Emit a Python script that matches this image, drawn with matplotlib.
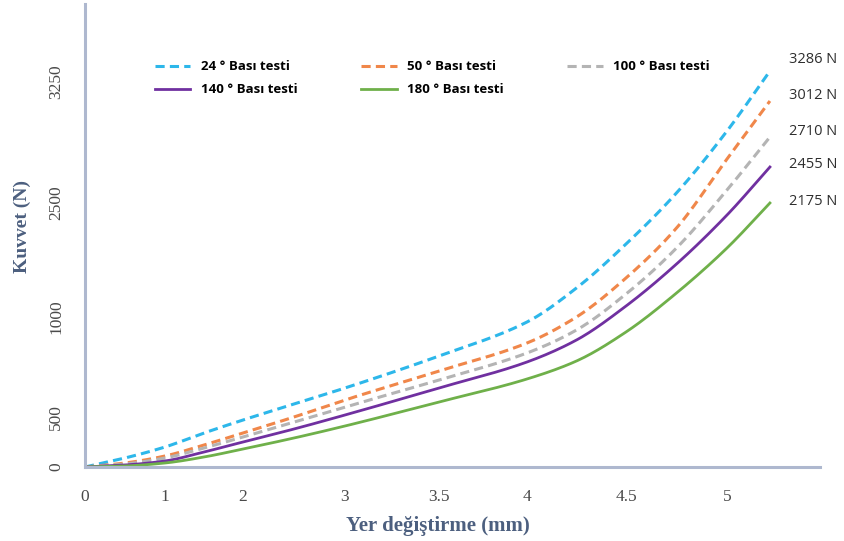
import numpy as np
import matplotlib.pyplot as plt

# displacement samples (mm) shared by all five compression tests
displacement = [0, 0.5, 1, 1.5, 2, 2.5, 3, 3.5, 4, 4.25, 4.5, 4.75, 5, 5.21]

# force (N) for each test angle
force_24 = [0, 90, 200, 340, 470, 565, 645, 805, 975, 1299, 1752, 2253, 2760, 3286]
force_50 = [0, 40, 110, 220, 340, 500, 585, 730, 870, 1000, 1402, 1917, 2523, 3012]
force_100 = [0, 30, 90, 190, 300, 450, 550, 685, 820, 935, 1237, 1711, 2276, 2710]
force_140 = [0, 20, 60, 150, 250, 380, 510, 645, 775, 885, 1113, 1546, 2051, 2455]
force_180 = [0, 10, 40, 100, 180, 290, 410, 575, 690, 780, 925, 1247, 1711, 2175]

test_labels = ["24 ° Bası testi", "50 ° Bası testi", "100 ° Bası testi",
               "140 ° Bası testi", "180 ° Bası testi"]

x_tick_values = [0, 1, 2, 3, 3.5, 4, 4.5, 5]
x_tick_labels = ["0", "1", "2", "3", "3.5", "4", "4.5", "5"]
y_tick_labels = ["0", "500", "1000", "2500", "3250"]

# uneven axis scales: data value -> drawing height
X_SCALE_MM = [0, 1, 2, 3, 3.5, 4, 4.5, 5, 5.455]
X_SCALE_POS = [0, 80, 158, 260, 354, 442, 541, 642, 735]
Y_SCALE_N = [0, 500, 1000, 2175, 2455, 2710, 3012, 3286, 3900]
Y_SCALE_POS = [0, 50, 150, 264, 300, 330, 366, 396, 463]
Y_TICK_POS = [0, 50, 150, 264, 385]


def x_fwd(v):
    return np.interp(np.asarray(v, dtype=float), X_SCALE_MM, X_SCALE_POS)


def x_inv(p):
    return np.interp(np.asarray(p, dtype=float), X_SCALE_POS, X_SCALE_MM)


def y_fwd(v):
    return np.interp(np.asarray(v, dtype=float), Y_SCALE_N, Y_SCALE_POS)


def y_inv(p):
    return np.interp(np.asarray(p, dtype=float), Y_SCALE_POS, Y_SCALE_N)


def pchip(x, y, xs):
    # monotone cubic (Fritsch-Carlson) so the curves stay smooth
    x = np.asarray(x, float)
    y = np.asarray(y, float)
    h = np.diff(x)
    d = np.diff(y) / h
    m = np.zeros_like(y)
    for k in range(1, len(x) - 1):
        if d[k - 1] * d[k] > 0:
            w1 = 2 * h[k] + h[k - 1]
            w2 = h[k] + 2 * h[k - 1]
            m[k] = (w1 + w2) / (w1 / d[k - 1] + w2 / d[k])
    m[0] = d[0]
    m[-1] = d[-1]
    idx = np.clip(np.searchsorted(x, xs) - 1, 0, len(h) - 1)
    t = (xs - x[idx]) / h[idx]
    h00 = 2 * t**3 - 3 * t**2 + 1
    h10 = t**3 - 2 * t**2 + t
    h01 = -2 * t**3 + 3 * t**2
    h11 = t**3 - t**2
    return (h00 * y[idx] + h10 * h[idx] * m[idx]
            + h01 * y[idx + 1] + h11 * h[idx] * m[idx + 1])


def smooth(xv, yv):
    # interpolate in drawing space, then map back to data units
    px = x_fwd(xv)
    py = y_fwd(yv)
    xs = np.linspace(px[0], px[-1], 300)
    ys = pchip(px, py, xs)
    return x_inv(xs), y_inv(ys)


fig = plt.figure(figsize=(8.44, 5.41), dpi=100)
ax = fig.add_axes([85 / 844, 74 / 541, 735 / 844, 463 / 541])
ax.set_xscale("function", functions=(x_fwd, x_inv))
ax.set_yscale("function", functions=(y_fwd, y_inv))

series = [force_24, force_50, force_100, force_140, force_180]
colors = ["#2db7ea", "#f0874a", "#b4b4b4", "#7030a0", "#6fb04a"]
handles = []
for forces, color, label in zip(series, colors, test_labels):
    xs, ys = smooth(displacement, forces)
    if label.startswith(("24", "50", "100")):
        line, = ax.plot(xs, ys, color=color, lw=2.2, dashes=(3, 1.7), label=label)
    else:
        line, = ax.plot(xs, ys, color=color, lw=2.0, label=label)
    handles.append(line)

# end-of-test force labels
end_offsets = [8, 4, 4, 2, 1]
for forces, dy in zip(series, end_offsets):
    ax.annotate(f"{forces[-1]} N", xy=(displacement[-1], forces[-1]),
                xytext=(14, dy), textcoords="offset points",
                ha="left", va="center", fontsize=10.5, color="#2e2e2e",
                family="Open Sans", annotation_clip=False)

ax.set_xlim(0, 5.455)
ax.set_ylim(0, 3900)
ax.set_xticks(x_tick_values, x_tick_labels)
ax.set_yticks(y_inv(np.array(Y_TICK_POS)), y_tick_labels)
ax.minorticks_off()
ax.tick_params(length=0)
ax.tick_params(axis="x", pad=16, labelsize=12.5, labelcolor="#4a4a4a")
ax.tick_params(axis="y", pad=15, labelsize=12.5, labelcolor="#4a4a4a",
               labelrotation=90)
for lab in ax.get_xticklabels() + ax.get_yticklabels():
    lab.set_family("Liberation Serif")
for lab in ax.get_yticklabels():
    lab.set_va("center")

for side in ["top", "right"]:
    ax.spines[side].set_visible(False)
for side in ["left", "bottom"]:
    ax.spines[side].set_color("#aeb8cf")
    ax.spines[side].set_linewidth(2.2)

ax.set_xlabel("Yer değiştirme (mm)", family="Liberation Serif", fontweight="bold",
              fontsize=15, color="#4c5f7f")
ax.set_ylabel("Kuvvet (N)", family="Liberation Serif", fontweight="bold",
              fontsize=14, color="#4c5f7f")
ax.xaxis.set_label_coords(0.48, -0.106)
ax.yaxis.set_label_coords(-0.074, 0.52)

order = [0, 3, 1, 4, 2]
leg = ax.legend([handles[i] for i in order], [test_labels[i] for i in order],
                ncol=3, loc="upper left", bbox_to_anchor=(0.086, 0.893),
                frameon=False, handlelength=2.7, handletextpad=0.8,
                columnspacing=4.8, labelspacing=0.76, borderpad=0,
                prop={"family": "Open Sans", "weight": "bold", "size": 9.5})

fig.savefig("out.png", dpi=100, facecolor="white")
